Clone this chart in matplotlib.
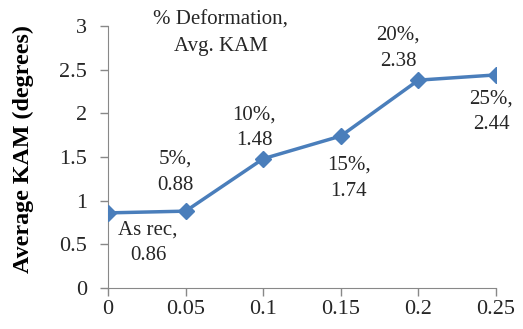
import matplotlib
matplotlib.use("Agg")
import matplotlib.pyplot as plt

deform = [0, 0.05, 0.1, 0.15, 0.2, 0.25]
kam = [0.86, 0.88, 1.48, 1.74, 2.38, 2.44]
names = ["As rec", "5%", "10%", "15%", "20%", "25%"]
# label offsets (pixels) from each point
offs = [(40, -30), (-10, 39), (-9, 31), (8, -42), (-20, 32), (-5, -37)]

plt.rcParams['font.family'] = ['Liberation Serif', 'DejaVu Serif']

fig = plt.figure(figsize=(5.23, 3.29), dpi=100)
ax = fig.add_axes([108/523, 41/329, 388/523, 262/329])

ax.plot(deform, kam, color='#4a7ebb', lw=2.5, marker='D', ms=8.5, zorder=3)

for x, y, n, (dx, dy) in zip(deform, kam, names, offs):
    ax.annotate(f"{n},\n{y:.2f}", (x, y), xytext=(dx, dy), textcoords='offset pixels',
                ha='center', va='center', fontsize=15, linespacing=1.5, color='#262626')

ax.text(0.291, 0.973, "% Deformation,\nAvg. KAM", transform=ax.transAxes,
        ha='center', va='center', fontsize=15, linespacing=1.5, color='#262626')

ax.set_xlim(0, 0.25)
ax.set_ylim(0, 3)
ax.set_xticks(deform)
ax.set_xticklabels(["0", "0.05", "0.1", "0.15", "0.2", "0.25"])
ax.set_yticks([0, 0.5, 1, 1.5, 2, 2.5, 3])
ax.set_yticklabels(["0", "0.5", "1", "1.5", "2", "2.5", "3"])
ax.tick_params(labelsize=16, colors='#888888', labelcolor='#262626', length=6, width=1)
ax.tick_params(axis='x', pad=3)
ax.tick_params(axis='y', pad=9)
for s in ['top', 'right']:
    ax.spines[s].set_visible(False)
for s in ['left', 'bottom']:
    ax.spines[s].set_color('#888888')
ax.set_ylabel("Average KAM (degrees)", fontsize=17.3, fontweight='bold')
ax.yaxis.set_label_coords(-0.19, 0.53)
ax.patch.set_visible(False)

fig.savefig("out.png", dpi=100)
